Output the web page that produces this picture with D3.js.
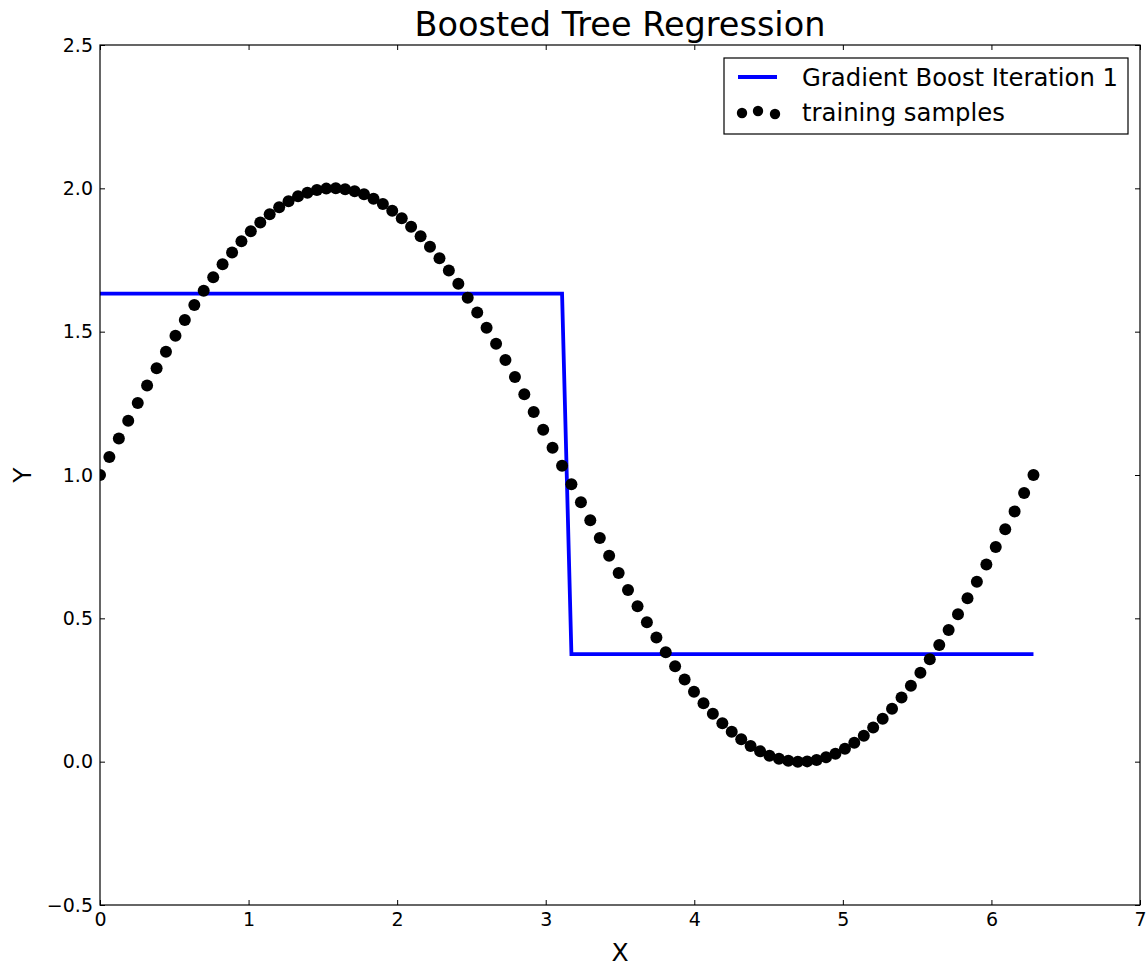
<!DOCTYPE html>
<html>
<head>
<meta charset="utf-8">
<script src="https://cdn.jsdelivr.net/npm/d3@7"></script>
<style>
  html, body { margin: 0; padding: 0; background: #fff; }
  svg { display: block; font-family: "DejaVu Sans", sans-serif; }
</style>
</head>
<body>
<svg id="chart" width="1148" height="968"></svg>
<script>
// ---- data ----
const sampleX = [0.000, 0.063, 0.127, 0.190, 0.254, 0.317, 0.381, 0.444, 0.508, 0.571,
  0.635, 0.698, 0.762, 0.825, 0.889, 0.952, 1.015, 1.079, 1.142, 1.206,
  1.269, 1.333, 1.396, 1.460, 1.523, 1.587, 1.650, 1.714, 1.777, 1.841,
  1.904, 1.967, 2.031, 2.094, 2.158, 2.221, 2.285, 2.348, 2.412, 2.475,
  2.539, 2.602, 2.666, 2.729, 2.793, 2.856, 2.919, 2.983, 3.046, 3.110,
  3.173, 3.237, 3.300, 3.364, 3.427, 3.491, 3.554, 3.618, 3.681, 3.745,
  3.808, 3.871, 3.935, 3.998, 4.062, 4.125, 4.189, 4.252, 4.316, 4.379,
  4.443, 4.506, 4.570, 4.633, 4.697, 4.760, 4.823, 4.887, 4.950, 5.014,
  5.077, 5.141, 5.204, 5.268, 5.331, 5.395, 5.458, 5.522, 5.585, 5.649,
  5.712, 5.775, 5.839, 5.902, 5.966, 6.029, 6.093, 6.156, 6.220, 6.283];
const sampleY = [1.000, 1.063, 1.127, 1.189, 1.251, 1.312, 1.372, 1.430, 1.486, 1.541,
  1.593, 1.643, 1.690, 1.735, 1.776, 1.815, 1.850, 1.881, 1.910, 1.934,
  1.955, 1.972, 1.985, 1.994, 1.999, 2.000, 1.997, 1.990, 1.979, 1.964,
  1.945, 1.922, 1.896, 1.866, 1.833, 1.796, 1.756, 1.713, 1.667, 1.618,
  1.567, 1.514, 1.458, 1.401, 1.342, 1.282, 1.220, 1.158, 1.095, 1.032,
  0.968, 0.905, 0.842, 0.780, 0.718, 0.658, 0.599, 0.542, 0.486, 0.433,
  0.382, 0.333, 0.287, 0.244, 0.204, 0.167, 0.134, 0.104, 0.078, 0.055,
  0.036, 0.021, 0.010, 0.003, 0.000, 0.001, 0.006, 0.015, 0.028, 0.045,
  0.066, 0.090, 0.119, 0.150, 0.185, 0.224, 0.265, 0.310, 0.357, 0.407,
  0.459, 0.514, 0.570, 0.628, 0.688, 0.749, 0.811, 0.873, 0.937, 1.000];
const stepX = [0.000, 3.110, 3.173, 6.283];
const stepY = [1.633, 1.633, 0.375, 0.375];
const xTicks = [0, 1, 2, 3, 4, 5, 6, 7];
const yTicks = [-0.5, 0.0, 0.5, 1.0, 1.5, 2.0, 2.5];
const titleText = "Boosted Tree Regression";
const xLabel = "X";
const yLabel = "Y";
const legendLabels = ["Gradient Boost Iteration 1", "training samples"];

// ---- layout ----
const L = 100, R = 1140, T = 45, B = 905;
const svg = d3.select("#chart");
const x = d3.scaleLinear().domain([0, 7]).range([L, R]);
const y = d3.scaleLinear().domain([-0.5, 2.5]).range([B, T]);
const yFmt = d3.format(".1f");

// axes
const gx = svg.append("g").attr("transform", `translate(0,${B})`)
  .call(d3.axisBottom(x).tickValues(xTicks).tickFormat(d3.format("d"))
    .tickSizeInner(-5).tickSizeOuter(0).tickPadding(8));
const gxt = svg.append("g").attr("transform", `translate(0,${T})`)
  .call(d3.axisTop(x).tickValues(xTicks).tickFormat("").tickSizeInner(-5).tickSizeOuter(0));
const gy = svg.append("g").attr("transform", `translate(${L},0)`)
  .call(d3.axisLeft(y).tickValues(yTicks).tickFormat(yFmt)
    .tickSizeInner(-5).tickSizeOuter(0).tickPadding(7));
const gyr = svg.append("g").attr("transform", `translate(${R},0)`)
  .call(d3.axisRight(y).tickValues(yTicks).tickFormat("").tickSizeInner(-5).tickSizeOuter(0));
[gx, gxt, gy, gyr].forEach(g => {
  g.select(".domain").remove();
  g.selectAll(".tick line").attr("stroke", "#000").attr("stroke-width", 1);
  g.selectAll(".tick text").attr("fill", "#000").style("font-size", "19px")
    .style("font-family", "DejaVu Sans, sans-serif");
});

// clip
svg.append("clipPath").attr("id", "clip").append("rect")
  .attr("x", L).attr("y", T).attr("width", R - L).attr("height", B - T);

const plot = svg.append("g").attr("clip-path", "url(#clip)");

// step line
const stepData = stepX.map((d, i) => [d, stepY[i]]);
plot.append("path").datum(stepData)
  .attr("d", d3.line().x(d => x(d[0])).y(d => y(d[1])))
  .attr("fill", "none").attr("stroke", "#0000ff").attr("stroke-width", 3.8)
  .attr("stroke-linejoin", "miter");

// samples
const samples = sampleX.map((d, i) => [d, sampleY[i]]);
plot.selectAll("circle.s").data(samples).join("circle")
  .attr("class", "s")
  .attr("cx", d => x(d[0])).attr("cy", d => y(d[1])).attr("r", 6)
  .attr("fill", "#000");

// frame
svg.append("rect").attr("x", L).attr("y", T).attr("width", R - L).attr("height", B - T)
  .attr("fill", "none").attr("stroke", "#000").attr("stroke-width", 1.2);

// title & labels
svg.append("text").attr("x", (L + R) / 2).attr("y", 36).attr("text-anchor", "middle")
  .style("font-size", "33.5px").attr("fill", "#000").text(titleText);
svg.append("text").attr("x", (L + R) / 2).attr("y", 961).attr("text-anchor", "middle")
  .style("font-size", "25px").attr("fill", "#000").text(xLabel);
svg.append("text").attr("transform", `translate(31,${y(1.0)}) rotate(-90)`)
  .attr("text-anchor", "middle")
  .style("font-size", "25px").attr("fill", "#000").text(yLabel);

// legend
const lg = svg.append("g");
lg.append("rect").attr("x", 724).attr("y", 58).attr("width", 404).attr("height", 76)
  .attr("fill", "#fff").attr("stroke", "#000").attr("stroke-width", 1.2);
lg.append("line").attr("x1", 738).attr("x2", 777).attr("y1", 77).attr("y2", 77)
  .attr("stroke", "#0000ff").attr("stroke-width", 3.8);
const legDots = [[742, 113], [758, 111], [775, 114]];
lg.selectAll("circle").data(legDots).join("circle")
  .attr("cx", d => d[0]).attr("cy", d => d[1]).attr("r", 5.2).attr("fill", "#000");
lg.selectAll("text").data(legendLabels).join("text")
  .attr("x", 802).attr("y", (d, i) => 77 + i * 35).attr("dy", "0.35em")
  .style("font-size", "24.3px").attr("fill", "#000").text(d => d);
</script>
</body>
</html>
